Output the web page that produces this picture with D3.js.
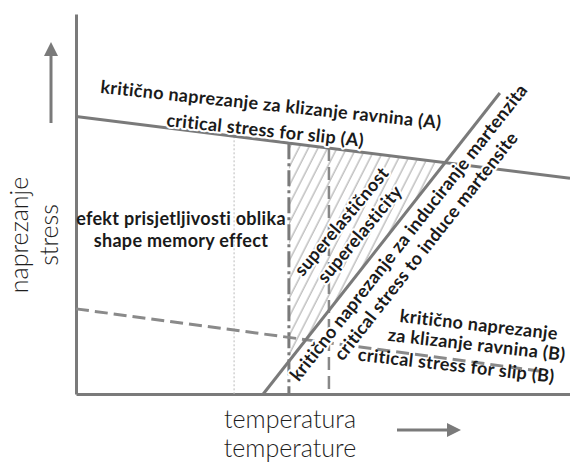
<!DOCTYPE html>
<html><head><meta charset="utf-8">
<script src="https://cdn.jsdelivr.net/npm/d3@7"></script>
<style>
html,body{margin:0;padding:0;background:#fff;}
svg{display:block;}
.ann{font-family:Lato,"Open Sans",sans-serif;font-weight:700;fill:#1a1a1a;font-size:18px;letter-spacing:0.3px;}
.halo{paint-order:stroke;stroke:#fff;stroke-width:4px;stroke-linejoin:round;}
.axlab{font-family:Lato,"Open Sans",sans-serif;font-weight:300;fill:#1e1e1e;font-size:25px;}
</style></head>
<body>
<script>
// ---- data (temperature / stress in arbitrary units 0..100) ----
const critSlipA = [{t: 0, s: 73.0}, {t: 100, s: 56.8}];          // critical stress for slip (A)
const critMartensite = [{t: 37.9, s: 0}, {t: 85.8, s: 79.2}];    // critical stress to induce martensite
const critSlipB = [{t: 0, s: 22.4}, {t: 95.3, s: 5.8}];          // critical stress for slip (B)
const transitionTemps = [{name: "Mf", t: 32.0, kind: "dotted"}, {name: "As", t: 43.1, kind: "dashdot"}, {name: "Af", t: 51.2, kind: "dashed"}];
const labelA = ["kritično naprezanje za klizanje ravnina (A)", "critical stress for slip (A)"];
const labelSME = ["efekt prisjetljivosti oblika", "shape memory effect"];
const labelSE = ["superelastičnost", "superelasticity"];
const labelM = ["kritično naprezanje za induciranje martenzita", "critical stress to induce martensite"];
const labelB = ["kritično naprezanje", "za klizanje ravnina (B)", "critical stress for slip (B)"];
const axisLabelsY = ["naprezanje", "stress"];
const axisLabelsX = ["temperatura", "temperature"];

const W = 570, H = 464;
const svg = d3.select("body").append("svg").attr("width", W).attr("height", H);
const x = d3.scaleLinear().domain([0, 100]).range([76, 570]);
const y = d3.scaleLinear().domain([0, 100]).range([394, 14]);
const grey = "#7a7a7a";

function sAt(line, t) {
  const [a, b] = line;
  return a.s + (b.s - a.s) * (t - a.t) / (b.t - a.t);
}
function intersect(l1, l2) {
  const m1 = (l1[1].s - l1[0].s) / (l1[1].t - l1[0].t);
  const m2 = (l2[1].s - l2[0].s) / (l2[1].t - l2[0].t);
  const c1 = l1[0].s - m1 * l1[0].t, c2 = l2[0].s - m2 * l2[0].t;
  const t = (c2 - c1) / (m1 - m2);
  return {t, s: m1 * t + c1};
}
const lineGen = d3.line().x(d => x(d.t)).y(d => y(d.s));

// hatch pattern
const defs = svg.append("defs");
const pat = defs.append("pattern").attr("id", "hatch").attr("patternUnits", "userSpaceOnUse")
  .attr("width", 8.5).attr("height", 8.5).attr("patternTransform", "rotate(27)");
pat.append("line").attr("x1", 2).attr("y1", 0).attr("x2", 2).attr("y2", 8.5)
  .attr("stroke", "#a0a0a0").attr("stroke-width", 1);

// superelastic region
const As = transitionTemps[1].t;
const ix = intersect(critSlipA, critMartensite);
const region = [{t: As, s: sAt(critSlipA, As)}, ix, {t: As, s: sAt(critMartensite, As)}];
svg.append("path").attr("d", lineGen(region) + "Z").attr("fill", "url(#hatch)");

// axes
svg.append("g").attr("transform", `translate(0,${y(0)})`)
  .call(d3.axisBottom(x).tickValues([]).tickSizeOuter(0))
  .select(".domain").attr("stroke", grey).attr("stroke-width", 3);
svg.append("g").attr("transform", `translate(${x(0)},0)`)
  .call(d3.axisLeft(y).tickValues([]).tickSizeOuter(0))
  .select(".domain").attr("stroke", grey).attr("stroke-width", 3);

// transition temperature verticals
const styles = {
  dotted: {w: 1, dash: "2,2", c: "#bbbbbb"},
  dashdot: {w: 3, dash: "16,4,3,4", c: "#7a7a7a"},
  dashed: {w: 2.5, dash: "13,6", c: "#888888"}
};
svg.selectAll("line.tt").data(transitionTemps).join("line").attr("class", "tt")
  .attr("x1", d => x(d.t)).attr("x2", d => x(d.t))
  .attr("y1", d => y(sAt(critSlipA, d.t))).attr("y2", y(0))
  .attr("stroke", d => styles[d.kind].c).attr("stroke-width", d => styles[d.kind].w)
  .attr("stroke-dasharray", d => styles[d.kind].dash);

// critical stress lines
svg.append("path").attr("d", lineGen(critSlipA)).attr("stroke", grey).attr("stroke-width", 3).attr("fill", "none");
svg.append("path").attr("d", lineGen(critSlipB)).attr("stroke", "#8a8a8a").attr("stroke-width", 3)
  .attr("stroke-dasharray", "13,6").attr("fill", "none");
svg.append("path").attr("d", lineGen(critMartensite)).attr("stroke", grey).attr("stroke-width", 3).attr("fill", "none");

// arrows
svg.append("line").attr("x1", 51).attr("y1", 123).attr("x2", 51).attr("y2", 54).attr("stroke", grey).attr("stroke-width", 3);
svg.append("path").attr("d", "M44,56 L58,56 L51,42 Z").attr("fill", grey);
svg.append("line").attr("x1", 397).attr("y1", 430).attr("x2", 449).attr("y2", 430).attr("stroke", grey).attr("stroke-width", 3);
svg.append("path").attr("d", "M447,423 L447,437 L461,430 Z").attr("fill", grey);

// annotation helper
function block(lines, cx, cy, angle, offsets, halo) {
  const g = svg.append("g").attr("transform", `translate(${cx},${cy}) rotate(${angle})`);
  g.selectAll("text").data(lines).join("text")
    .attr("class", "ann" + (halo ? " halo" : ""))
    .attr("text-anchor", "middle").attr("dominant-baseline", "central")
    .attr("x", (d, i) => offsets[i][0]).attr("y", (d, i) => offsets[i][1])
    .text(d => d);
}
block(labelA, 271, 104, 6, [[0, 0], [-3, 26]], true);
block(labelSME, 181, 218, 0, [[0, 0], [0, 22]], false);
block(labelSE, 341, 221, -50, [[0, 0], [2, 22]], true);
block(labelM, 408, 232, -51.8, [[0, 0], [0, 22]], true);
block(labelB, 479, 324, 6.5, [[0, 0], [0, 20], [-18, 43]], false);

// axis labels
svg.append("text").attr("class", "axlab").attr("text-anchor", "middle")
  .attr("transform", "translate(28,235) rotate(-90)").text(axisLabelsY[0]);
svg.append("text").attr("class", "axlab").attr("text-anchor", "middle")
  .attr("transform", "translate(58,235) rotate(-90)").text(axisLabelsY[1]);
svg.append("text").attr("class", "axlab").attr("text-anchor", "middle")
  .attr("x", 290).attr("y", 428).text(axisLabelsX[0]);
svg.append("text").attr("class", "axlab").attr("text-anchor", "middle")
  .attr("x", 290).attr("y", 457).text(axisLabelsX[1]);
</script>
</body></html>
